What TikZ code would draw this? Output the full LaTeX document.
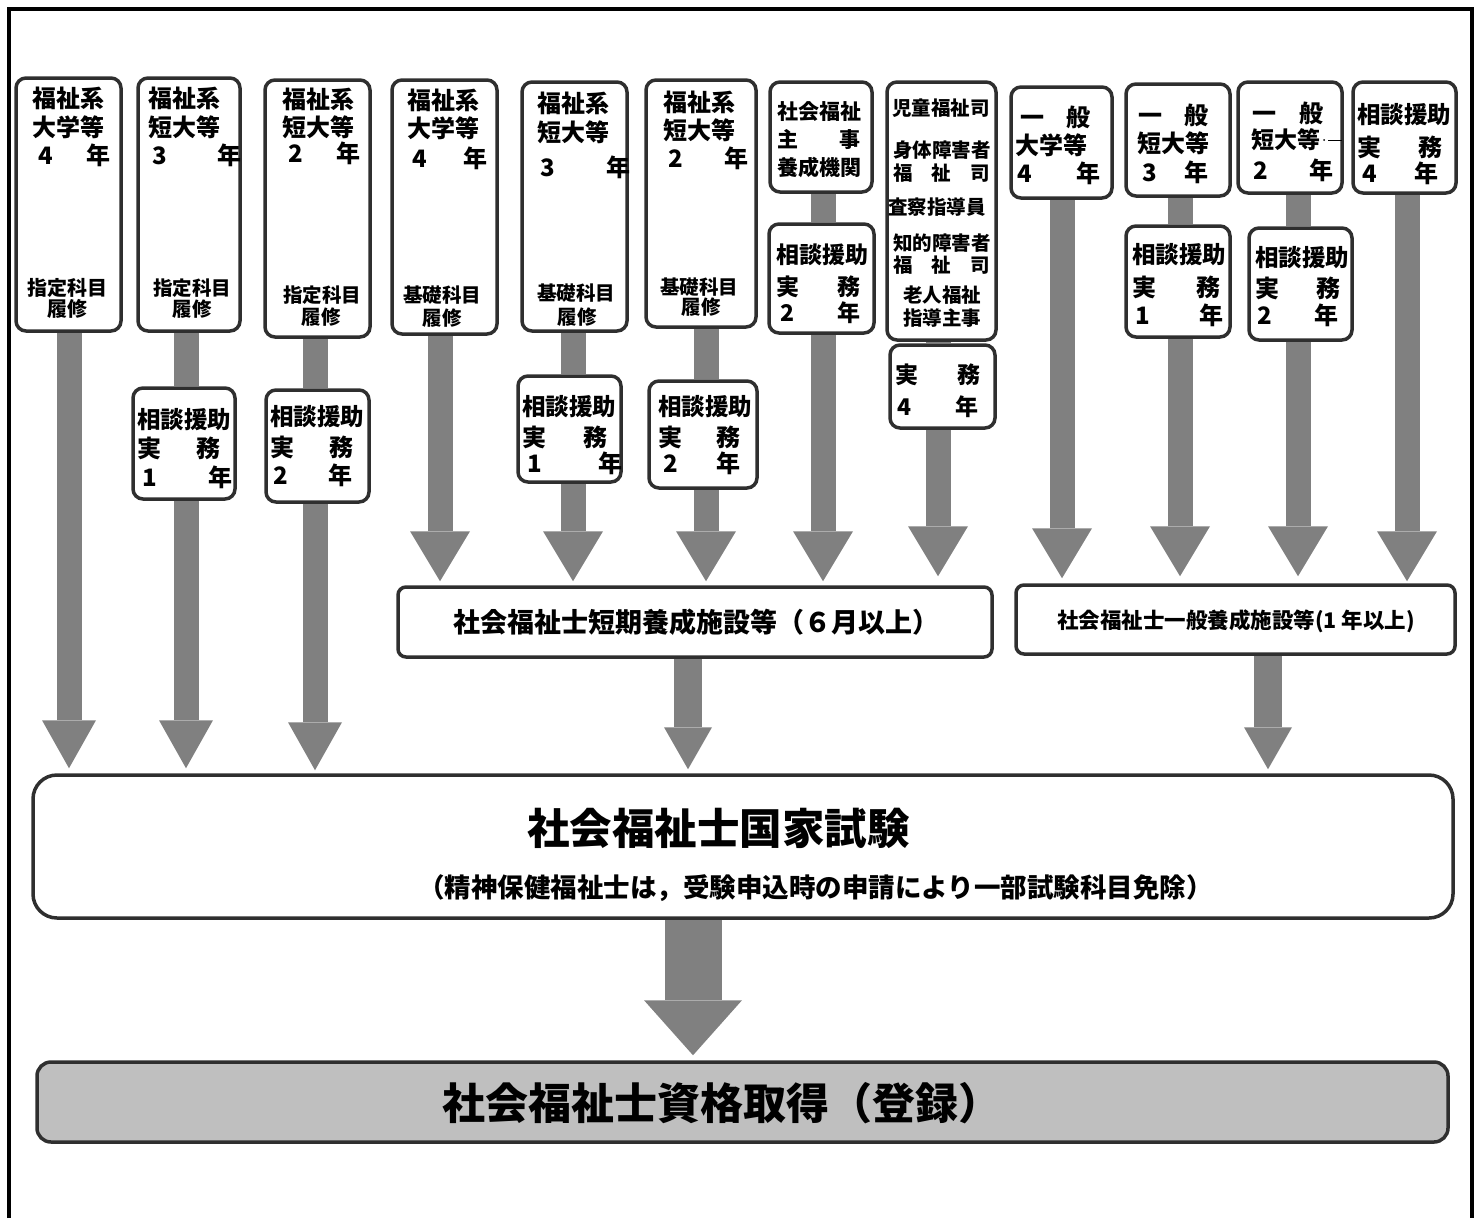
\documentclass[tikz,border=0pt]{standalone}
\usepackage{fontspec}
\setmainfont{Noto Sans CJK JP}
\usetikzlibrary{arrows.meta,backgrounds}
\definecolor{ag}{HTML}{808080}
\definecolor{bd}{HTML}{2F2F2F}
\definecolor{fg}{HTML}{BFBFBF}
\newcommand\fs[1]{\fontsize{#1}{#1}\selectfont}
\tikzset{
  box/.style={draw=bd, line width=3.5pt, rounded corners=10pt, fill=white, inner sep=0pt},
  tx/.style={anchor=base west, inner sep=0pt},
  tc/.style={anchor=base, inner sep=0pt},
  shaft/.style={draw=ag, line width=25pt},
  arrA/.style={shaft, -{Triangle[length=48pt 0 0, width=54pt 0 0, line width=0pt 0 0]}},
  arrB/.style={shaft, -{Triangle[length=50pt 0 0, width=60pt 0 0, line width=0pt 0 0]}},
  arrC/.style={draw=ag, line width=28pt, -{Triangle[length=42pt 0 0, width=48pt 0 0, line width=0pt 0 0]}},
  arrD/.style={draw=ag, line width=57pt, -{Triangle[length=55pt 0 0, width=98pt 0 0, line width=0pt 0 0]}},
}
% box: name, x1, y1, x2, y2, extra
\newcommand\bx[6]{\node[box,#6, minimum width={#4pt-#2pt}, minimum height={#5pt-#3pt}] (#1) at ({(#2+#4)/2},{(#3+#5)/2}) {};}
% text line: name, xleft, ycenter, size, text  (baseline = glyph centre + 0.38em)
\newcommand\tl[5]{\node[tx,font={\bfseries\fs{#4}}] (#1) at (#2,{#3+0.38*#4}) {#5};}
% centred text: name, x, y, size, text
\newcommand\tcn[5]{\node[tc,font={\bfseries\fs{#4}}] (#1) at (#2,{#3+0.38*#4}) {#5};}
% justified line: name, x1, x2, y, size, content
\newcommand\jl[6]{\node[tx,font={\bfseries\fs{#5}}] (#1) at (#2,{#4+0.38*#5}) {\makebox[\dimexpr#3pt-#2pt\relax][l]{#6}};}

\begin{document}
\begin{tikzpicture}[x=1pt,y=-1pt]
\useasboundingbox (0,0) rectangle (1477,1218);
\draw[line width=4pt] (9,1218) -- (9,8.5) -- (1471.5,8.5) -- (1471.5,1218);

% ---- boxes ----
\bx{B1}{16}{78}{121}{331}{}
\bx{B2}{138}{78}{240}{331}{}
\bx{B3}{265}{80}{370}{337}{}
\bx{B4}{392}{80}{497}{334}{}
\bx{B5}{522}{82}{627}{331}{}
\bx{B6}{646}{80}{756}{327}{}
\bx{B7}{770}{82}{872}{192}{}
\bx{B8}{769}{224}{874}{333}{}
\bx{B9}{887}{82}{996}{340}{}
\bx{B10}{890}{345}{995}{428}{}
\bx{B11}{1011}{87}{1112}{198}{}
\bx{B12}{1126}{84}{1230}{196}{}
\bx{B13}{1238}{82}{1342}{193}{}
\bx{B14}{1353}{82}{1456}{193}{}
\bx{B15}{1126}{226}{1230}{337}{}
\bx{B16}{1249}{228}{1352}{340}{}
\bx{B17}{133}{388}{235}{499}{}
\bx{B18}{266}{390}{369}{502}{}
\bx{B19}{518}{376}{621}{482}{}
\bx{B20}{649}{381}{757}{488}{}
\bx{S1}{398}{587}{992}{657}{rounded corners=8pt}
\bx{S2}{1016}{585}{1455}{654}{rounded corners=8pt}
\bx{E}{33}{775}{1453}{918}{rounded corners=24pt}
\bx{F}{37}{1062}{1448}{1142}{rounded corners=14pt, fill=fg}

% ---- texts ----
\tl{t1a}{32}{98}{24}{福祉系}
\tl{t1b}{32}{127}{24}{大学等}
\jl{t1c}{38}{110}{155}{24}{4\hfill 年}
\tl{t1d}{27}{288}{20}{指定科目}
\tcn{t1e}{67}{309}{20}{履修}

\tl{t2a}{148}{98}{24}{福祉系}
\tl{t2b}{148}{127}{24}{短大等}
\jl{t2c}{152}{241}{155}{24}{3\hfill 年}
\tl{t2d}{153}{288}{19.5}{指定科目}
\tcn{t2e}{192}{309}{19.5}{履修}

\tl{t3a}{282}{99}{24}{福祉系}
\tl{t3b}{282}{127}{24}{短大等}
\jl{t3c}{288}{360}{153}{24}{2\hfill 年}
\tl{t3d}{283}{295}{19.5}{指定科目}
\tcn{t3e}{321}{317}{19.5}{履修}

\tl{t4a}{407}{100}{24}{福祉系}
\tl{t4b}{407}{128}{24}{大学等}
\jl{t4c}{412}{487}{158}{24}{4\hfill 年}
\tl{t4d}{403}{295}{19.5}{基礎科目}
\tcn{t4e}{442}{318}{19.5}{履修}

\tl{t5a}{537}{103}{24}{福祉系}
\tl{t5b}{537}{132}{24}{短大等}
\jl{t5c}{540}{630}{167}{24}{3\hfill 年}
\tl{t5d}{537}{293}{19.5}{基礎科目}
\tcn{t5e}{577}{317}{19.5}{履修}

\tl{t6a}{663}{102}{24}{福祉系}
\tl{t6b}{663}{130}{24}{短大等}
\jl{t6c}{668}{748}{158}{24}{2\hfill 年}
\tl{t6d}{660}{287}{19.5}{基礎科目}
\tcn{t6e}{701}{307}{19.5}{履修}

\tl{t7a}{777}{112}{21}{社会福祉}
\jl{t7b}{777}{860}{140}{21}{主\hfill 事}
\tl{t7c}{777}{168}{21}{養成機関}

\tl{t8a}{776}{255}{23}{相談援助}
\jl{t8b}{776}{860}{287}{23}{実\hfill 務}
\jl{t8c}{780}{860}{313}{23}{2\hfill 年}

\tl{t9a}{892}{108}{19.5}{児童福祉司}
\tl{t9b}{893}{150}{19.5}{身体障害者}
\jl{t9c}{893}{990}{173}{19.5}{福\hfill 祉\hfill 司}
\tl{t9d}{888}{207}{19.5}{査察指導員}
\tl{t9e}{893}{243}{19.5}{知的障害者}
\jl{t9f}{893}{990}{265}{19.5}{福\hfill 祉\hfill 司}
\tl{t9g}{903}{295}{19.5}{老人福祉}
\tl{t9h}{903}{318}{19.5}{指導主事}

\jl{t10a}{895}{980}{375}{23}{実\hfill 務}
\jl{t10b}{897}{978}{407}{23}{4\hfill 年}

\jl{t11a}{1020}{1090}{117}{24}{一\hfill 般}
\tl{t11b}{1015}{145}{24}{大学等}
\jl{t11c}{1017}{1100}{173}{24}{4\hfill 年}

\jl{t12a}{1138}{1208}{115}{24}{一\hfill 般}
\tl{t12b}{1137}{143}{24}{短大等}
\jl{t12c}{1142}{1208}{172}{24}{3\hfill 年}

\jl{t13a}{1252}{1323}{113}{24}{一\hfill 般}
\tl{t13b}{1251}{140}{23}{短大等}
\jl{t13c}{1253}{1333}{170}{24}{2\hfill 年}
\fill (1324,140) circle (1);
\draw[line width=1pt] (1328,140) -- (1342,140);

\tl{t14a}{1357}{115}{23.5}{相談援助}
\jl{t14b}{1357}{1442}{147}{24}{実\hfill 務}
\jl{t14c}{1362}{1438}{173}{24}{4\hfill 年}

\tl{t15a}{1132}{255}{23.5}{相談援助}
\jl{t15b}{1132}{1220}{287}{24}{実\hfill 務}
\jl{t15c}{1135}{1223}{315}{24}{1\hfill 年}

\tl{t16a}{1255}{258}{23.5}{相談援助}
\jl{t16b}{1255}{1340}{288}{24}{実\hfill 務}
\jl{t16c}{1257}{1338}{315}{24}{2\hfill 年}

\tl{t17a}{137}{420}{23.5}{相談援助}
\jl{t17b}{137}{220}{448}{24}{実\hfill 務}
\jl{t17c}{142}{232}{477}{24}{1\hfill 年}

\tl{t18a}{270}{417}{23.5}{相談援助}
\jl{t18b}{270}{353}{447}{24}{実\hfill 務}
\jl{t18c}{273}{352}{475}{24}{2\hfill 年}

\tl{t19a}{522}{407}{23.5}{相談援助}
\jl{t19b}{522}{607}{437}{24}{実\hfill 務}
\jl{t19c}{527}{622}{463}{24}{1\hfill 年}

\tl{t20a}{658}{407}{23.5}{相談援助}
\jl{t20b}{658}{740}{437}{24}{実\hfill 務}
\jl{t20c}{663}{740}{463}{24}{2\hfill 年}

\tl{ts1}{453}{622}{27}{社会福祉士短期養成施設等（６月以上）}
\tl{ts2}{1057}{620}{21.5}{社会福祉士一般養成施設等(1 年以上)}
\tl{te1}{527}{828}{42.5}{社会福祉士国家試験}
\tl{te2}{418}{887}{26.5}{（精神保健福祉士は，受験申込時の申請により一部試験科目免除）}
\tl{tf1}{442}{1103}{43}{社会福祉士資格取得（登録）}

% ---- arrows ----
\coordinate (c1) at (69,0);
\coordinate (c2) at (186,0);
\coordinate (c3) at (315,0);
\coordinate (c4) at (440,0);
\coordinate (c5) at (573,0);
\coordinate (c6) at (706,0);
\coordinate (c7) at (823,0);
\coordinate (c8) at (938,0);
\coordinate (c9) at (1062,0);
\coordinate (c10) at (1180,0);
\coordinate (c11) at (1298,0);
\coordinate (c12) at (1407,0);
\coordinate (c13) at (688,0);
\coordinate (c14) at (1268,0);
\coordinate (c15) at (693,0);

\begin{scope}[on background layer]
\draw[shaft] (c2 |- B2.south) -- (c2 |- B17.north);
\draw[shaft] (c3 |- B3.south) -- (c3 |- B18.north);
\draw[shaft] (c5 |- B5.south) -- (c5 |- B19.north);
\draw[shaft] (c6 |- B6.south) -- (c6 |- B20.north);
\draw[shaft] (c7 |- B7.south) -- (c7 |- B8.north);
\draw[shaft] (c8 |- B9.south) -- (c8 |- B10.north);
\draw[shaft] (c10 |- B12.south) -- (c10 |- B15.north);
\draw[shaft] (c11 |- B13.south) -- (c11 |- B16.north);

\draw[arrA] (c1 |- B1.south) -- ([yshift=5pt]c1 |- E.north);
\draw[arrA] (c2 |- B17.south) -- ([yshift=5pt]c2 |- E.north);
\draw[arrA] (c3 |- B18.south) -- ([yshift=3pt]c3 |- E.north);

\draw[arrB] (c4 |- B4.south) -- ([yshift=4pt]c4 |- S1.north);
\draw[arrB] (c5 |- B19.south) -- ([yshift=4pt]c5 |- S1.north);
\draw[arrB] (c6 |- B20.south) -- ([yshift=4pt]c6 |- S1.north);
\draw[arrB] (c7 |- B8.south) -- ([yshift=4pt]c7 |- S1.north);
\draw[arrB] (c8 |- B10.south) -- ([yshift=9pt]c8 |- S1.north);
\draw[arrB] (c9 |- B11.south) -- ([yshift=5pt]c9 |- S2.north);
\draw[arrB] (c10 |- B15.south) -- ([yshift=7pt]c10 |- S2.north);
\draw[arrB] (c11 |- B16.south) -- ([yshift=7pt]c11 |- S2.north);
\draw[arrB] (c12 |- B14.south) -- ([yshift=2pt]c12 |- S2.north);

\draw[arrC] (c13 |- S1.south) -- ([yshift=4pt]c13 |- E.north);
\draw[arrC] (c14 |- S2.south) -- ([yshift=4pt]c14 |- E.north);
\draw[arrD] (c15 |- E.south) -- ([yshift=5pt]c15 |- F.north);
\end{scope}
\end{tikzpicture}
\end{document}
